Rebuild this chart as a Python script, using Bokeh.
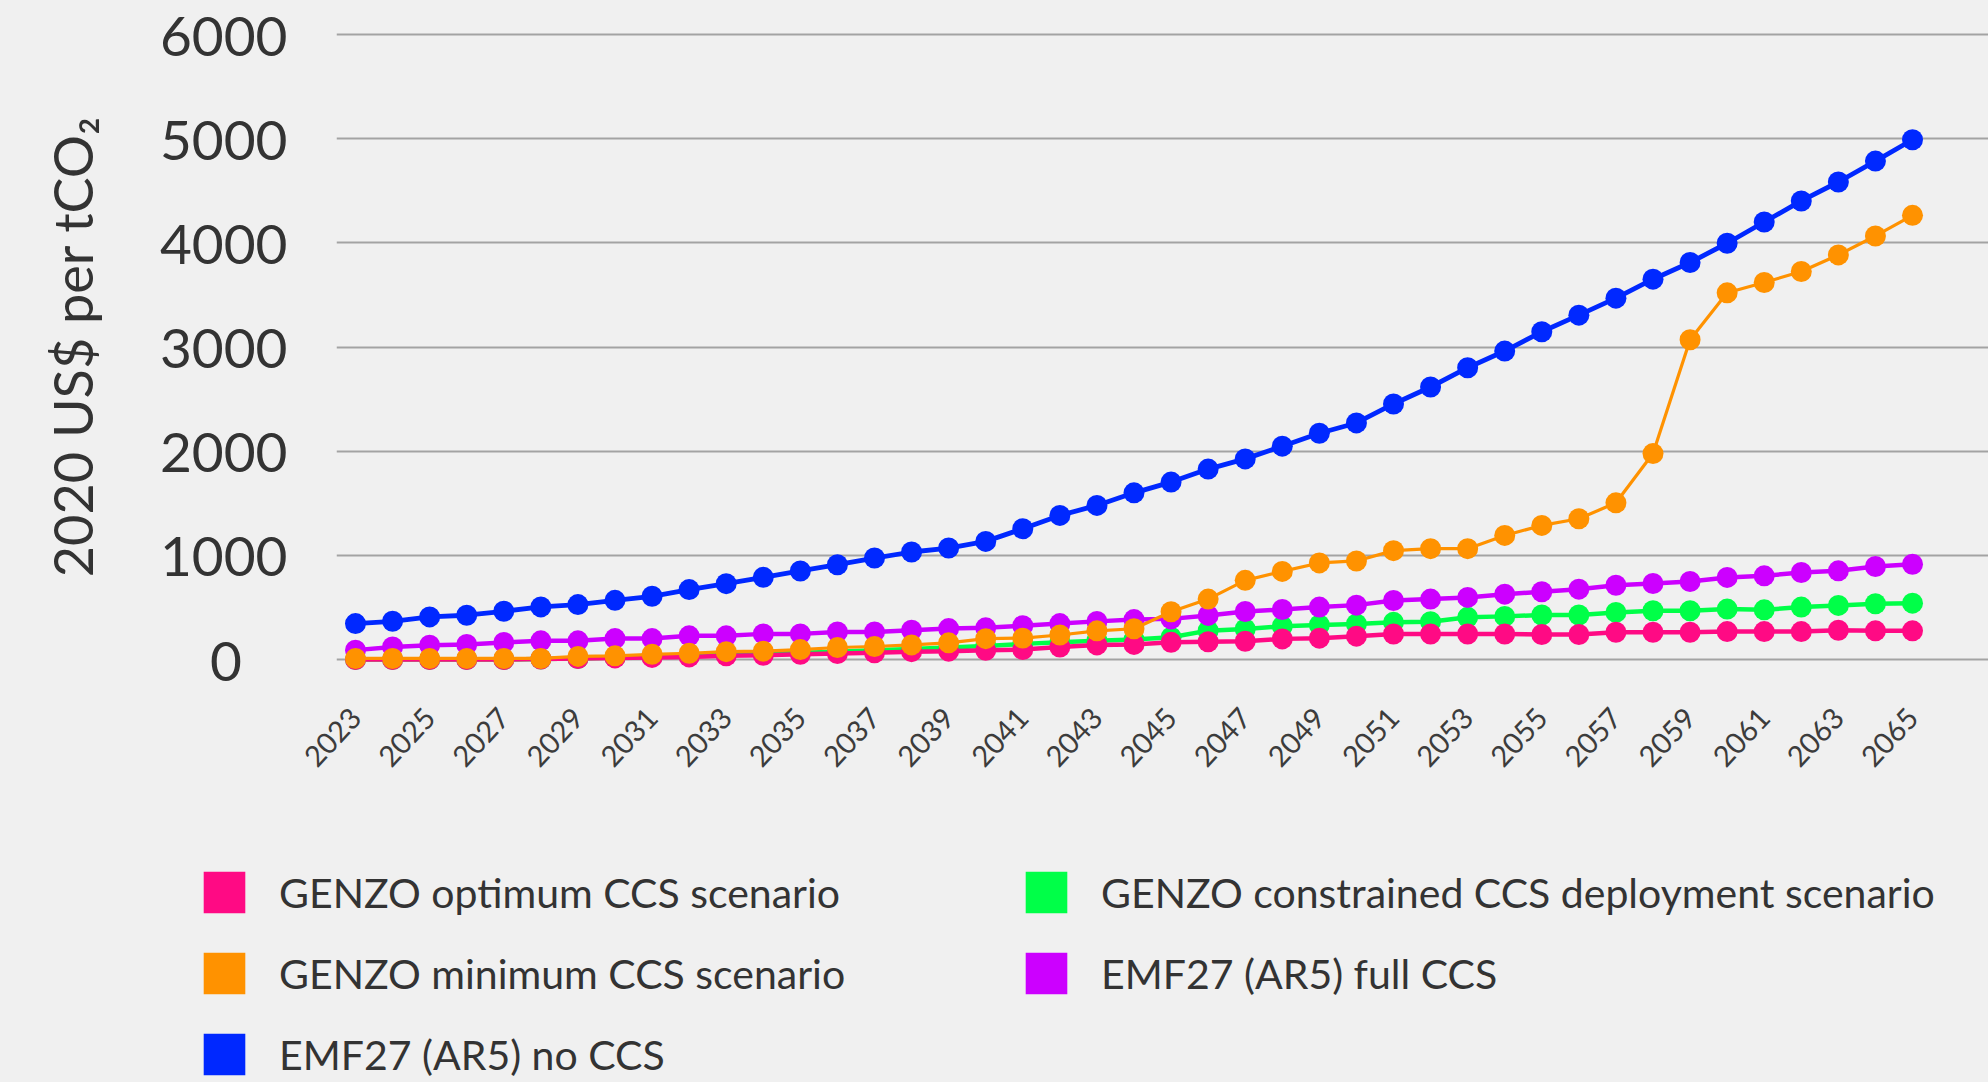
from bokeh.plotting import figure
from bokeh.layouts import column
from bokeh.models import FixedTicker, Legend, LegendItem, Range1d
from bokeh.embed import file_html
from bokeh.resources import INLINE

years = list(range(2023, 2066))

genzo_optimum = [0, 0, 0, 0, 0, 5, 10, 15, 20, 25, 35, 40, 50, 57, 65, 75, 80, 88, 95, 120,
                 140, 145, 165, 170, 175, 198, 205, 224, 245, 245, 245, 245, 240, 240, 262, 262,
                 262, 268, 268, 268, 281, 275, 275]
genzo_constrained = [0, 0, 0, 0, 0, 5, 10, 20, 28, 35, 45, 55, 65, 75, 88, 100, 115, 130, 150, 166,
                     181, 191, 214, 277, 293, 319, 331, 341, 357, 363, 405, 414, 427, 427, 452, 468,
                     468, 484, 477, 503, 519, 535, 541]
genzo_minimum = [10, 10, 10, 10, 10, 10, 30, 35, 50, 60, 75, 80, 95, 115, 125, 140, 160, 200, 205,
                 235, 275, 295, 458, 580, 760, 846, 927, 946, 1045, 1064, 1064, 1191, 1287, 1351,
                 1504, 1977, 3070, 3520, 3619, 3725, 3884, 4066, 4264]
emf27_full = [90, 121, 137, 144, 163, 179, 179, 201, 201, 227, 227, 246, 246, 265, 265, 281, 297,
              304, 325, 345, 366, 383, 390, 423, 461, 480, 503, 522, 566, 580, 596, 627, 650, 675,
              713, 730, 749, 788, 803, 835, 851, 893, 914]
emf27_no = [345, 367, 409, 425, 463, 505, 527, 568, 607, 671, 728, 789, 850, 910, 974, 1032, 1070,
            1134, 1255, 1383, 1479, 1600, 1703, 1828, 1926, 2048, 2172, 2271, 2453, 2616, 2801,
            2961, 3146, 3306, 3469, 3651, 3811, 3996, 4200, 4402, 4584, 4785, 4990]

y_ticks = [0, 1000, 2000, 3000, 4000, 5000, 6000]
x_ticks = years[::2]

labels = {
    "optimum": "GENZO optimum CCS scenario",
    "constrained": "GENZO constrained CCS deployment scenario",
    "minimum": "GENZO minimum CCS scenario",
    "full": "EMF27 (AR5) full CCS",
    "no": "EMF27 (AR5) no CCS",
}
colors = {
    "optimum": "#ff0a84",
    "constrained": "#00ff48",
    "minimum": "#ff9200",
    "full": "#cc00ff",
    "no": "#0028ff",
}
widths = {"optimum": 4.5, "constrained": 4.5, "minimum": 3.2, "full": 4.5, "no": 4.8}
series = {
    "optimum": genzo_optimum,
    "constrained": genzo_constrained,
    "minimum": genzo_minimum,
    "full": emf27_full,
    "no": emf27_no,
}

BG = "#f0f0f0"
FONT = "Lato"
W = 1988
H_TOP = 800
H_BOTTOM = 1082 - H_TOP

p = figure(width=W, height=H_TOP, output_backend="svg", toolbar_location=None,
           x_range=Range1d(2022.4875, 2067.05), y_range=Range1d(-124.8, 6134.4),
           min_border_left=336, min_border_right=0, min_border_top=20,
           min_border_bottom=H_TOP - 672)
p.frame_align = False
p.background_fill_color = BG
p.border_fill_color = BG
p.outline_line_color = None

p.xgrid.grid_line_color = None
p.ygrid.grid_line_color = "#a3a3a3"
p.ygrid.grid_line_width = 2
p.ygrid.ticker = FixedTicker(ticks=y_ticks)

p.yaxis.ticker = FixedTicker(ticks=y_ticks)
p.yaxis.major_label_overrides = {0: "0\u2007\u2009\u2009"}
p.yaxis.axis_line_color = None
p.yaxis.major_tick_line_color = None
p.yaxis.minor_tick_line_color = None
p.yaxis.major_label_standoff = 43
p.yaxis.major_label_text_font = FONT
p.yaxis.major_label_text_font_size = "55px"
p.yaxis.major_label_text_color = "#333333"
p.yaxis.axis_label = "2020 US$ per tCO\u2082"
p.yaxis.axis_label_text_font = FONT
p.yaxis.axis_label_text_font_size = "54px"
p.yaxis.axis_label_text_font_style = "normal"
p.yaxis.axis_label_text_color = "#333333"
p.yaxis.axis_label_standoff = 52

p.xaxis.ticker = FixedTicker(ticks=x_ticks)
p.xaxis.axis_line_color = None
p.xaxis.major_tick_line_color = None
p.xaxis.minor_tick_line_color = None
p.xaxis.major_label_orientation = 0.82
p.xaxis.major_label_standoff = 34
p.xaxis.major_label_text_font = FONT
p.xaxis.major_label_text_font_size = "29px"
p.xaxis.major_label_text_color = "#3c3c3c"

for key in ["constrained", "optimum", "full", "minimum", "no"]:
    p.line(years, series[key], line_color=colors[key], line_width=widths[key])
    p.scatter(years, series[key], marker="circle", size=21, fill_color=colors[key], line_color=None)

# legend panel (separate figure below the chart)
q = figure(width=W, height=H_BOTTOM, output_backend="svg", toolbar_location=None,
           x_axis_type=None, y_axis_type=None, x_range=Range1d(0, 1), y_range=Range1d(0, 1),
           min_border_left=0, min_border_right=0, min_border_top=0, min_border_bottom=0)
q.frame_align = False
q.background_fill_color = BG
q.border_fill_color = BG
q.outline_line_color = None
q.grid.visible = False

nan = float("nan")
swatches = {}
for key in colors:
    swatches[key] = q.quad(left=[nan], right=[nan], top=[nan], bottom=[nan],
                           fill_color=colors[key], line_color=None)

GLYPH = 52
SPACING = 29


def make_legend(keys, loc):
    return Legend(items=[LegendItem(label=labels[k], renderers=[swatches[k]]) for k in keys],
                  location=loc, orientation="vertical",
                  glyph_width=GLYPH, glyph_height=GLYPH,
                  label_standoff=29, spacing=SPACING, padding=0, margin=0,
                  border_line_color=None, background_fill_alpha=0,
                  label_text_font=FONT, label_text_font_size="41px", label_text_color="#333333")


LEG_TOP = 866 - H_TOP
h3 = 3 * GLYPH + 2 * SPACING
h2 = 2 * GLYPH + SPACING
q.add_layout(make_legend(["optimum", "minimum", "no"], (198, H_BOTTOM - LEG_TOP - h3)), "center")
q.add_layout(make_legend(["constrained", "full"], (1020, H_BOTTOM - LEG_TOP - h2)), "center")

layout = column(p, q, spacing=0)

html = file_html(layout, INLINE)
html = html.replace("<head>", "<head><style>html,body{background:#f0f0f0;}</style>", 1)
open("out.html", "w").write(html)
